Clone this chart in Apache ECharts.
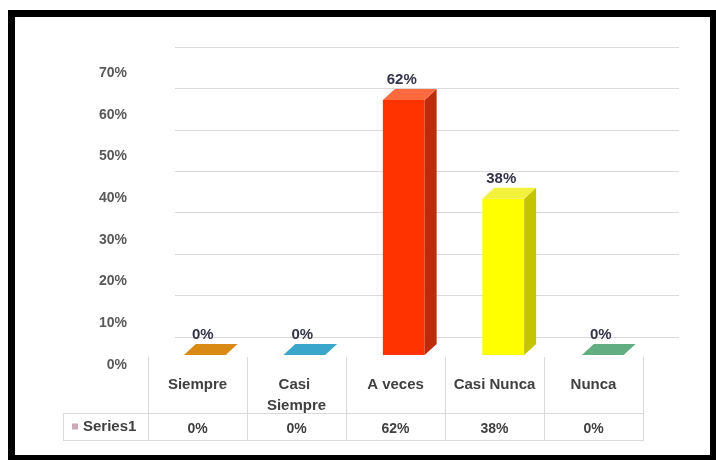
<!DOCTYPE html>
<html>
<head>
<meta charset="utf-8">
<script src="https://cdn.jsdelivr.net/npm/echarts@6/dist/echarts.min.js"></script>
<style>
  html, body { margin: 0; padding: 0; background: #ffffff; }
  #chart { width: 716px; height: 460px; }
</style>
</head>
<body>
<div id="chart"></div>
<script>
// Survey answers and their shares
const categories = ['Siempre', 'Casi Siempre', 'A veces', 'Casi Nunca', 'Nunca'];
const values = [0, 0, 0.62, 0.38, 0];
const seriesName = 'Series1';

// Value axis range (0% .. 70%, step 10%)
const axisMin = 0;
const axisMax = 0.7;
const axisStep = 0.1;

// Per-bar face colours (front / side / top)
const frontColors = ['#D98A14', '#3AA6CC', '#FF3300', '#FFFF00', '#62AE82'];
const sideColors  = ['#A8680C', '#2B7E9C', '#C02A0C', '#C4C400', '#4A8A64'];
const topColors   = ['#D98A14', '#3AA6CC', '#FF6A40', '#F2F23C', '#62AE82'];

const pct = v => Math.round(v * 100) + '%';
const FONT = '"Liberation Sans", Arial, sans-serif';

// Depth offset of the 3D columns
const DX = 12, DY = -11;

function renderBar(params, api) {
  const i = api.value(0);
  const v = api.value(1);
  const base = api.coord([i, 0]);
  const top = api.coord([i, v]);
  const band = api.size([1, 0])[0];
  const w = band * 0.42;
  const x0 = base[0] - w / 2, x1 = base[0] + w / 2;
  const yb = base[1], yt = top[1];
  const children = [];
  if (yb - yt > 0.5) {
    children.push({
      type: 'rect',
      shape: { x: x0, y: yt, width: w, height: yb - yt },
      style: { fill: frontColors[i] }
    });
    children.push({
      type: 'polygon',
      shape: { points: [[x1, yt], [x1 + DX, yt + DY], [x1 + DX, yb + DY], [x1, yb]] },
      style: { fill: sideColors[i] }
    });
  }
  children.push({
    type: 'polygon',
    shape: { points: [[x0, yt], [x1, yt], [x1 + DX, yt + DY], [x0 + DX, yt + DY]] },
    style: { fill: topColors[i] }
  });
  children.push({
    type: 'text',
    style: {
      text: pct(v),
      x: base[0] - 2,
      y: yt + DY - 9,
      align: 'center',
      verticalAlign: 'middle',
      fill: '#33334a',
      font: 'bold 15px ' + FONT
    }
  });
  return { type: 'group', children: children };
}

const chart = echarts.init(document.getElementById('chart'), null, { renderer: 'canvas' });

const lineStyle = () => ({ stroke: '#d9d9d9', lineWidth: 1 });
const tableLines = [
  { type: 'line', shape: { x1: 63, y1: 413.5, x2: 643, y2: 413.5 }, style: lineStyle() },
  { type: 'line', shape: { x1: 63, y1: 440.5, x2: 643, y2: 440.5 }, style: lineStyle() },
  { type: 'line', shape: { x1: 63.5, y1: 413, x2: 63.5, y2: 441 }, style: lineStyle() }
];
for (let k = 0; k <= categories.length; k++) {
  const x = 148.5 + 99 * k;
  tableLines.push({ type: 'line', shape: { x1: x, y1: 357, x2: x, y2: 441 }, style: lineStyle() });
}

const hiddenValueAxis = (g) => ({
  gridIndex: g, type: 'value', min: axisMin, max: axisMax, interval: axisStep,
  show: false, splitLine: { show: false }
});

chart.setOption({
  animation: false,
  backgroundColor: '#ffffff',
  graphic: [
    { type: 'rect', z: -100, shape: { x: 8, y: 10, width: 708, height: 450 }, style: { fill: '#000000' } },
    { type: 'rect', z: -99, shape: { x: 15, y: 17, width: 695, height: 438 }, style: { fill: '#ffffff' } }
  ].concat(tableLines),
  legend: {
    data: [seriesName],
    left: 72,
    top: 419,
    padding: 0,
    icon: 'rect',
    itemWidth: 6,
    itemHeight: 6,
    itemGap: 5,
    selectedMode: false,
    textStyle: { color: '#404040', fontFamily: FONT, fontWeight: 'bold', fontSize: 15 }
  },
  grid: [
    // back wall with gridlines
    { left: 175, width: 504, top: 47, height: 290 },
    // front plane carrying the value labels
    { left: 140, width: 10, top: 73, height: 292 },
    // column plane
    { left: 155, width: 497.5, top: 67, height: 288 },
    // data table: category row
    { left: 148, width: 495, top: 300, height: 65 },
    // data table: value row
    { left: 148, width: 495, top: 380, height: 40 }
  ],
  xAxis: [
    { gridIndex: 0, type: 'category', data: categories, show: false },
    { gridIndex: 1, type: 'category', data: categories, show: false },
    { gridIndex: 2, type: 'category', data: categories, show: false },
    {
      gridIndex: 3, type: 'category', data: categories, position: 'bottom',
      axisLine: { show: false }, axisTick: { show: false },
      axisLabel: {
        margin: 9, color: '#404040', fontFamily: FONT, fontWeight: 'bold', fontSize: 15,
        lineHeight: 21, width: 90, overflow: 'break', interval: 0
      }
    },
    {
      gridIndex: 4, type: 'category', data: categories, position: 'bottom',
      axisLine: { show: false }, axisTick: { show: false },
      axisLabel: {
        margin: 2, color: '#404040', fontFamily: FONT, fontWeight: 'bold', fontSize: 14,
        interval: 0,
        formatter: (val, idx) => pct(values[idx])
      }
    }
  ],
  yAxis: [
    {
      gridIndex: 0, type: 'value', min: axisMin, max: axisMax, interval: axisStep,
      axisLine: { show: false }, axisTick: { show: false }, axisLabel: { show: false },
      splitLine: { show: true, lineStyle: { color: '#d9d9d9', width: 1 } }
    },
    {
      gridIndex: 1, type: 'value', min: axisMin, max: axisMax, interval: axisStep,
      axisLine: { show: false }, axisTick: { show: false }, splitLine: { show: false },
      axisLabel: {
        margin: 13, color: '#595959', fontFamily: FONT, fontWeight: 'bold', fontSize: 14,
        formatter: v => pct(v)
      }
    },
    hiddenValueAxis(2),
    hiddenValueAxis(3),
    hiddenValueAxis(4)
  ],
  series: [
    {
      name: seriesName,
      type: 'custom',
      xAxisIndex: 2,
      yAxisIndex: 2,
      itemStyle: { color: '#c9aab6' },
      renderItem: renderBar,
      encode: { x: 0, y: 1 },
      data: values.map((v, i) => [i, v])
    }
  ]
});
</script>
</body>
</html>
